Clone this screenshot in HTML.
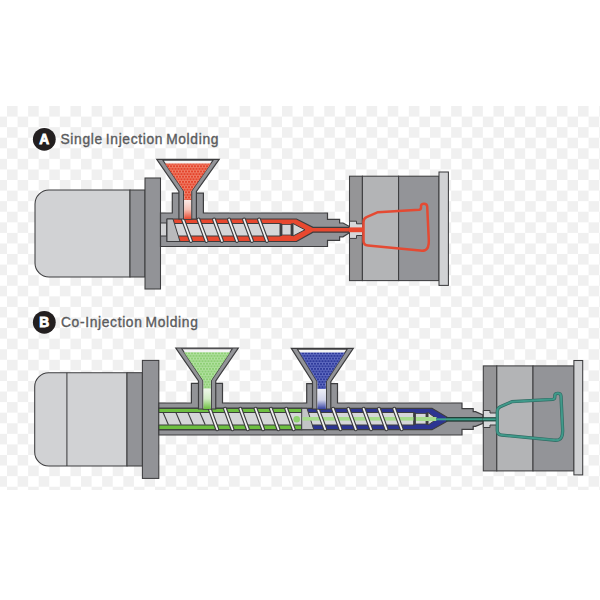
<!DOCTYPE html>
<html><head><meta charset="utf-8"><style>
html,body{margin:0;padding:0;background:#fff;width:600px;height:600px;overflow:hidden}
svg{display:block}
text{font-family:"Liberation Sans",sans-serif}
</style></head><body>
<svg width="600" height="600" viewBox="0 0 600 600">
<rect width="600" height="600" fill="#fff"/>
<defs>
<pattern id="chk" x="7" y="106" width="21.15" height="21.15" patternUnits="userSpaceOnUse"><rect x="0" y="0" width="10.575" height="10.575" fill="#f0f0f0"/><rect x="10.575" y="10.575" width="10.575" height="10.575" fill="#f0f0f0"/></pattern>
<pattern id="dotR" width="3.0" height="5.196" patternUnits="userSpaceOnUse"><rect width="3.0" height="5.196" fill="#f59a84"/><circle cx="0" cy="0" r="1.3" fill="#e5452d"/><circle cx="3.0" cy="0" r="1.3" fill="#e5452d"/><circle cx="0" cy="5.196" r="1.3" fill="#e5452d"/><circle cx="3.0" cy="5.196" r="1.3" fill="#e5452d"/><circle cx="1.5" cy="2.598" r="1.3" fill="#e5452d"/></pattern>
<pattern id="dotG" width="3.0" height="5.196" patternUnits="userSpaceOnUse"><rect width="3.0" height="5.196" fill="#c2e9b3"/><circle cx="0" cy="0" r="1.3" fill="#8fd077"/><circle cx="3.0" cy="0" r="1.3" fill="#8fd077"/><circle cx="0" cy="5.196" r="1.3" fill="#8fd077"/><circle cx="3.0" cy="5.196" r="1.3" fill="#8fd077"/><circle cx="1.5" cy="2.598" r="1.3" fill="#8fd077"/></pattern>
<pattern id="dotB" width="3.0" height="5.196" patternUnits="userSpaceOnUse"><rect width="3.0" height="5.196" fill="#7b86d4"/><circle cx="0" cy="0" r="1.35" fill="#2f3b9c"/><circle cx="3.0" cy="0" r="1.35" fill="#2f3b9c"/><circle cx="0" cy="5.196" r="1.35" fill="#2f3b9c"/><circle cx="3.0" cy="5.196" r="1.35" fill="#2f3b9c"/><circle cx="1.5" cy="2.598" r="1.35" fill="#2f3b9c"/></pattern>
<linearGradient id="neckR" x1="0" y1="0" x2="0" y2="1"><stop offset="0" stop-color="#fbeae6"/><stop offset="0.5" stop-color="#f6c2b6"/><stop offset="1" stop-color="#e8482f"/></linearGradient>
<linearGradient id="neckG" x1="0" y1="0" x2="0" y2="1"><stop offset="0" stop-color="#eff8ea"/><stop offset="0.5" stop-color="#d2edc4"/><stop offset="1" stop-color="#6dbf40"/></linearGradient>
<linearGradient id="neckB" x1="0" y1="0" x2="0" y2="1"><stop offset="0" stop-color="#eeeff6"/><stop offset="0.55" stop-color="#d0d3ea"/><stop offset="1" stop-color="#3440a0"/></linearGradient>
</defs>
<rect x="0" y="106" width="600" height="384" fill="url(#chk)"/>
<circle cx="44.3" cy="139.3" r="11.4" fill="#231f20"/>
<text x="44.3" y="143.7" text-anchor="middle" font-family="Liberation Sans" font-weight="bold" font-size="13.8" fill="#fff" stroke="#fff" stroke-width="0.8">A</text>
<text x="60.5" y="143.6" font-family="Liberation Sans" font-size="13.8" letter-spacing="0.66" word-spacing="-1.5" fill="#5a5b5d" stroke="#5a5b5d" stroke-width="0.35">Single Injection Molding</text>
<path d="M49,190 H130 V277 H49 A14,14 0 0 1 35,263 V204 A14,14 0 0 1 49,190 Z" fill="#d1d2d4" stroke="#3d3d3f" stroke-width="1.05"/>
<rect x="130" y="190" width="15" height="87" fill="#929397" stroke="#3d3d3f" stroke-width="1.05"/>
<rect x="145" y="178" width="15.5" height="111" fill="#929397" stroke="#3d3d3f" stroke-width="1.05"/>
<path d="M160.5,213 H172.3 V193.2 H203.4 V213 H327.5 V219.4 H339.6 V223 H343 L349.1,226.3 V232.9 L343,236.8 H339.6 V240.3 H327.5 V246.5 H160.5 Z" fill="#929397" stroke="#3d3d3f" stroke-width="1.2"/>
<rect x="160.5" y="223" width="6.5" height="13" fill="#d1d2d4" stroke="#3d3d3f" stroke-width="1"/>
<path d="M167,219 H296.5 L313,227.4 H350 V232.2 H313 L296.5,241.5 H167 Z" fill="#e8482f" stroke="#3d3d3f" stroke-width="1.2"/>
<rect x="167" y="223.5" width="113" height="12.5" fill="#d5d6d8" stroke="#3d3d3f" stroke-width="1"/>
<path d="M167,219 H173 L180,241.5 H167 Z" fill="#b9babc" stroke="#3d3d3f" stroke-width="1"/>
<line x1="183" y1="219.5" x2="191" y2="241" stroke="#3d3d3f" stroke-width="4.0" stroke-linecap="round"/>
<line x1="183" y1="219.5" x2="191" y2="241" stroke="#f2f2f2" stroke-width="1.8" stroke-linecap="round"/>
<line x1="198.5" y1="219.5" x2="206.5" y2="241" stroke="#3d3d3f" stroke-width="4.0" stroke-linecap="round"/>
<line x1="198.5" y1="219.5" x2="206.5" y2="241" stroke="#f2f2f2" stroke-width="1.8" stroke-linecap="round"/>
<line x1="214" y1="219.5" x2="222" y2="241" stroke="#3d3d3f" stroke-width="4.0" stroke-linecap="round"/>
<line x1="214" y1="219.5" x2="222" y2="241" stroke="#f2f2f2" stroke-width="1.8" stroke-linecap="round"/>
<line x1="229" y1="219.5" x2="237" y2="241" stroke="#3d3d3f" stroke-width="4.0" stroke-linecap="round"/>
<line x1="229" y1="219.5" x2="237" y2="241" stroke="#f2f2f2" stroke-width="1.8" stroke-linecap="round"/>
<line x1="244" y1="219.5" x2="252" y2="241" stroke="#3d3d3f" stroke-width="4.0" stroke-linecap="round"/>
<line x1="244" y1="219.5" x2="252" y2="241" stroke="#f2f2f2" stroke-width="1.8" stroke-linecap="round"/>
<line x1="259" y1="219.5" x2="267" y2="241" stroke="#3d3d3f" stroke-width="4.0" stroke-linecap="round"/>
<line x1="259" y1="219.5" x2="267" y2="241" stroke="#f2f2f2" stroke-width="1.8" stroke-linecap="round"/>
<rect x="280" y="223.5" width="2" height="12.5" fill="#3d3d3f"/>
<rect x="282" y="224.5" width="9" height="10.5" fill="#d5d6d8" stroke="#3d3d3f" stroke-width="0.8"/>
<rect x="291" y="223.5" width="2" height="12.5" fill="#3d3d3f"/>
<path d="M293,223.5 L305,229.8 L293,236 Z" fill="#d5d6d8" stroke="#3d3d3f" stroke-width="1"/>
<path d="M156.75,159.3 H219.2 L196.4,191.4 V219 H178.9 V191.4 Z" fill="#929397" stroke="#3d3d3f" stroke-width="1.2"/>
<path d="M162.75,160.10000000000002 H213.2 L191.70000000000002,190.9 V219 H183.6 V190.9 Z" fill="#f4f4f4" stroke="#3d3d3f" stroke-width="1.1"/>
<path d="M164.95,163.5 H211.0 L191.10000000000002,191.4 V200 H184.2 V191.4 Z" fill="url(#dotR)"/>
<rect x="184.2" y="200" width="6.900000000000023" height="19" fill="url(#neckR)"/>
<rect x="349.5" y="176.2" width="12.899999999999977" height="104.40000000000003" fill="#959597" stroke="#3d3d3f" stroke-width="1.05"/>
<rect x="362.4" y="176.2" width="36.200000000000045" height="104.40000000000003" fill="#b3b4b6" stroke="#3d3d3f" stroke-width="1.05"/>
<rect x="398.6" y="176.2" width="40.39999999999998" height="104.40000000000003" fill="#939498" stroke="#3d3d3f" stroke-width="1.05"/>
<rect x="439" y="172" width="9.399999999999977" height="113.39999999999998" fill="#d1d2d4" stroke="#3d3d3f" stroke-width="1.05"/>
<path d="M349.5,221.2 H356.5 V223.8 H362.7 V235.5 H356.5 V238.4 H349.5 Z" fill="#d6d7d9" stroke="#3d3d3f" stroke-width="1"/>
<rect x="349" y="227.4" width="14" height="4.8" fill="#e8482f"/>
<path d="M363.5,222 Q363.5,218.5 366.5,217.2 L378,212.2 L419,209.8 Q421,209.6 421,207.5 L421,205.8 Q421.4,203.8 424,203.8 Q427,203.8 427.2,206.5 L428.8,240 Q429.2,248.5 425,250.3 Q423,251 420,250.6 L368,245.6 Q363.5,245.2 363.5,241 Z" fill="none" stroke="#e44a33" stroke-width="2.5" stroke-linejoin="round"/>
<circle cx="44.3" cy="322.3" r="11.4" fill="#231f20"/>
<text x="44.3" y="326.7" text-anchor="middle" font-family="Liberation Sans" font-weight="bold" font-size="13.8" fill="#fff" stroke="#fff" stroke-width="0.8">B</text>
<text x="61" y="326.6" font-family="Liberation Sans" font-size="13.8" letter-spacing="0.66" word-spacing="-1.5" fill="#5a5b5d" stroke="#5a5b5d" stroke-width="0.35">Co-Injection Molding</text>
<path d="M48.7,372.7 H127 V466 H48.7 A14,14 0 0 1 34.7,452 V386.7 A14,14 0 0 1 48.7,372.7 Z" fill="#d1d2d4" stroke="#3d3d3f" stroke-width="1.05"/>
<line x1="66.9" y1="372.7" x2="66.9" y2="466" stroke="#3d3d3f" stroke-width="1.05"/>
<rect x="127" y="372.7" width="15.400000000000006" height="93.30000000000001" fill="#929397" stroke="#3d3d3f" stroke-width="1.05"/>
<rect x="142.4" y="360.4" width="16.400000000000006" height="118.0" fill="#929397" stroke="#3d3d3f" stroke-width="1.05"/>
<path d="M158.8,403 H191.4 V383.4 H222.5 V403 H306.7 V383.7 H337.5 V403 H462 V408.7 H473.2 V411.6 H475.5 L483,415 V423.4 L475.5,426.4 H473.2 V429.3 H462 V435 H158.8 Z" fill="#929397" stroke="#3d3d3f" stroke-width="1.2"/>
<path d="M158.8,408.3 H432 L447.5,417.5 H484 V421 H447.5 L432,429.7 H158.8 Z" fill="#2d3592" stroke="#3d3d3f" stroke-width="1.2"/>
<rect x="158.8" y="408.3" width="142.9" height="21.4" fill="#6dbf40" stroke="#3d3d3f" stroke-width="1.2"/>
<rect x="158.8" y="412.5" width="255" height="12.5" fill="#d5d6d8" stroke="#3d3d3f" stroke-width="1"/>
<path d="M301.7,408.3 L307,408.3 L313.8,429.7 L301.7,429.7 Z" fill="#c3c4c6" stroke="#3d3d3f" stroke-width="1"/>
<rect x="302.5" y="417" width="134" height="3.6" fill="#a6dc8c"/>
<circle cx="296.7" cy="419.2" r="3.3" fill="#8fd26f"/>
<line x1="163.2" y1="412.8" x2="168.39999999999998" y2="424.8" stroke="#3d3d3f" stroke-width="1.1"/>
<line x1="176" y1="412.8" x2="181.2" y2="424.8" stroke="#3d3d3f" stroke-width="1.1"/>
<line x1="188" y1="412.8" x2="193.2" y2="424.8" stroke="#3d3d3f" stroke-width="1.1"/>
<line x1="200" y1="412.8" x2="205.2" y2="424.8" stroke="#3d3d3f" stroke-width="1.1"/>
<line x1="209.7" y1="408.8" x2="217.2" y2="429.2" stroke="#3d3d3f" stroke-width="4.0" stroke-linecap="round"/>
<line x1="209.7" y1="408.8" x2="217.2" y2="429.2" stroke="#f2f2f2" stroke-width="1.8" stroke-linecap="round"/>
<line x1="225" y1="408.8" x2="232.5" y2="429.2" stroke="#3d3d3f" stroke-width="4.0" stroke-linecap="round"/>
<line x1="225" y1="408.8" x2="232.5" y2="429.2" stroke="#f2f2f2" stroke-width="1.8" stroke-linecap="round"/>
<line x1="240.3" y1="408.8" x2="247.8" y2="429.2" stroke="#3d3d3f" stroke-width="4.0" stroke-linecap="round"/>
<line x1="240.3" y1="408.8" x2="247.8" y2="429.2" stroke="#f2f2f2" stroke-width="1.8" stroke-linecap="round"/>
<line x1="255.6" y1="408.8" x2="263.1" y2="429.2" stroke="#3d3d3f" stroke-width="4.0" stroke-linecap="round"/>
<line x1="255.6" y1="408.8" x2="263.1" y2="429.2" stroke="#f2f2f2" stroke-width="1.8" stroke-linecap="round"/>
<line x1="270.9" y1="408.8" x2="278.4" y2="429.2" stroke="#3d3d3f" stroke-width="4.0" stroke-linecap="round"/>
<line x1="270.9" y1="408.8" x2="278.4" y2="429.2" stroke="#f2f2f2" stroke-width="1.8" stroke-linecap="round"/>
<line x1="286.2" y1="408.8" x2="293.7" y2="429.2" stroke="#3d3d3f" stroke-width="4.0" stroke-linecap="round"/>
<line x1="286.2" y1="408.8" x2="293.7" y2="429.2" stroke="#f2f2f2" stroke-width="1.8" stroke-linecap="round"/>
<line x1="317.7" y1="408.8" x2="325.2" y2="429.2" stroke="#3d3d3f" stroke-width="4.0" stroke-linecap="round"/>
<line x1="317.7" y1="408.8" x2="325.2" y2="429.2" stroke="#f2f2f2" stroke-width="1.8" stroke-linecap="round"/>
<line x1="333" y1="408.8" x2="340.5" y2="429.2" stroke="#3d3d3f" stroke-width="4.0" stroke-linecap="round"/>
<line x1="333" y1="408.8" x2="340.5" y2="429.2" stroke="#f2f2f2" stroke-width="1.8" stroke-linecap="round"/>
<line x1="348.3" y1="408.8" x2="355.8" y2="429.2" stroke="#3d3d3f" stroke-width="4.0" stroke-linecap="round"/>
<line x1="348.3" y1="408.8" x2="355.8" y2="429.2" stroke="#f2f2f2" stroke-width="1.8" stroke-linecap="round"/>
<line x1="363.6" y1="408.8" x2="371.1" y2="429.2" stroke="#3d3d3f" stroke-width="4.0" stroke-linecap="round"/>
<line x1="363.6" y1="408.8" x2="371.1" y2="429.2" stroke="#f2f2f2" stroke-width="1.8" stroke-linecap="round"/>
<line x1="378.9" y1="408.8" x2="386.4" y2="429.2" stroke="#3d3d3f" stroke-width="4.0" stroke-linecap="round"/>
<line x1="378.9" y1="408.8" x2="386.4" y2="429.2" stroke="#f2f2f2" stroke-width="1.8" stroke-linecap="round"/>
<line x1="394.2" y1="408.8" x2="401.7" y2="429.2" stroke="#3d3d3f" stroke-width="4.0" stroke-linecap="round"/>
<line x1="394.2" y1="408.8" x2="401.7" y2="429.2" stroke="#f2f2f2" stroke-width="1.8" stroke-linecap="round"/>
<rect x="413.5" y="412.5" width="2" height="12.5" fill="#3d3d3f"/>
<rect x="415.5" y="413.5" width="10.5" height="10.5" fill="#d5d6d8" stroke="#3d3d3f" stroke-width="0.8"/>
<rect x="426" y="412.5" width="2" height="12.5" fill="#3d3d3f"/>
<path d="M428,412.5 L437,419 L428,425 Z" fill="#d5d6d8" stroke="#3d3d3f" stroke-width="1"/>
<rect x="416" y="417" width="20" height="4" fill="#a6dc8c"/>
<rect x="446" y="417.2" width="51" height="4.2" fill="#1f4038"/>
<rect x="436" y="418.3" width="61" height="2" fill="#3da08b"/>
<path d="M175.8,348 H238.3 L215.75,381 V409 H198.5 V381 Z" fill="#929397" stroke="#3d3d3f" stroke-width="1.2"/>
<path d="M181.8,348.8 H232.3 L211.35,380.5 V409 H202.9 V380.5 Z" fill="#f4f4f4" stroke="#3d3d3f" stroke-width="1.1"/>
<path d="M184.0,352.2 H230.10000000000002 L210.75,381 V388.7 H203.5 V381 Z" fill="url(#dotG)"/>
<rect x="203.5" y="388.7" width="7.2499999999999885" height="20.30000000000001" fill="url(#neckG)"/>
<path d="M291.3,348.3 H353.3 L330.8,381.7 V409 H312.5 V381.7 Z" fill="#929397" stroke="#3d3d3f" stroke-width="1.2"/>
<path d="M297.3,349.1 H347.3 L326.40000000000003,381.2 V409 H316.9 V381.2 Z" fill="#f4f4f4" stroke="#3d3d3f" stroke-width="1.1"/>
<path d="M299.5,352.5 H345.1 L325.8,381.7 V389 H317.5 V381.7 Z" fill="url(#dotB)"/>
<rect x="317.5" y="389" width="8.300000000000058" height="20" fill="url(#neckB)"/>
<rect x="483.3" y="365.9" width="13.5" height="105.0" fill="#959597" stroke="#3d3d3f" stroke-width="1.05"/>
<rect x="496.8" y="365.9" width="36.19999999999999" height="105.0" fill="#b3b4b6" stroke="#3d3d3f" stroke-width="1.05"/>
<rect x="533" y="365.9" width="40.89999999999998" height="105.0" fill="#939498" stroke="#3d3d3f" stroke-width="1.05"/>
<rect x="573.9" y="360.5" width="8.800000000000068" height="114.39999999999998" fill="#d1d2d4" stroke="#3d3d3f" stroke-width="1.05"/>
<path d="M483.3,410.5 H490 V413 H496.8 V425 H490 V427.5 H483.3 Z" fill="#d6d7d9" stroke="#3d3d3f" stroke-width="1"/>
<rect x="483" y="417.2" width="14" height="4.2" fill="#1f4038"/><rect x="483" y="418.3" width="14" height="2" fill="#3da08b"/>
<g transform="translate(133.8,189.5)"><path d="M363.5,222 Q363.5,218.5 366.5,217.2 L378,212.2 L419,209.8 Q421,209.6 421,207.5 L421,205.8 Q421.4,203.8 424,203.8 Q427,203.8 427.2,206.5 L428.8,240 Q429.2,248.5 425,250.3 Q423,251 420,250.6 L368,245.6 Q363.5,245.2 363.5,241 Z" fill="none" stroke="#2f6a62" stroke-width="3.3" stroke-linejoin="round"/><path d="M363.5,222 Q363.5,218.5 366.5,217.2 L378,212.2 L419,209.8 Q421,209.6 421,207.5 L421,205.8 Q421.4,203.8 424,203.8 Q427,203.8 427.2,206.5 L428.8,240 Q429.2,248.5 425,250.3 Q423,251 420,250.6 L368,245.6 Q363.5,245.2 363.5,241 Z" fill="none" stroke="#40998a" stroke-width="2.0" stroke-linejoin="round"/></g>
</svg>
</body></html>
